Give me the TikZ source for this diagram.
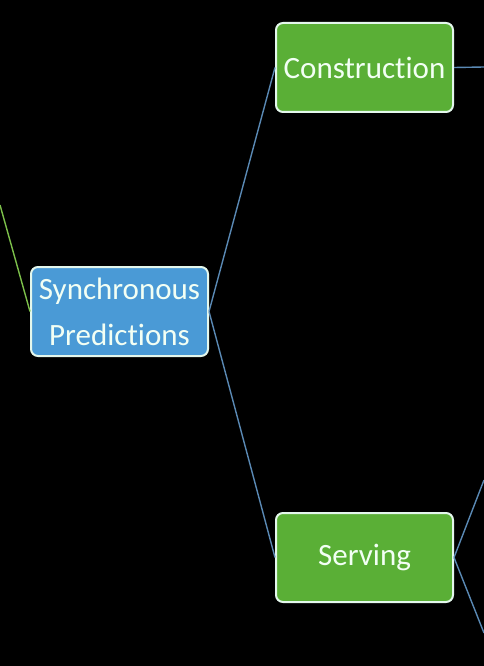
\documentclass[tikz,border=0pt]{standalone}
\usepackage{fontspec}
\setmainfont[Ligatures=NoCommon]{Carlito}
\definecolor{bluefill}{HTML}{4A9AD6}
\definecolor{greenfill}{HTML}{5AAF36}
\definecolor{bordercol}{HTML}{E4F7EC}
\definecolor{linkblue}{HTML}{5A89B4}
\definecolor{linkgreen}{HTML}{7CBF4A}
\definecolor{textcol}{HTML}{F2FFF4}
\tikzset{
  box/.style={draw=bordercol, line width=2pt, rounded corners=7pt,
    minimum width=177pt, minimum height=89pt, inner sep=0pt,
    text=textcol, font=\fontsize{31}{46}\selectfont, align=center},
  bluebox/.style={box, fill=bluefill},
  greenbox/.style={box, fill=greenfill},
  link/.style={draw=linkblue, line width=1.4pt},
  glink/.style={draw=linkgreen, line width=1.4pt}
}
\begin{document}
\begin{tikzpicture}[x=1pt,y=-1pt]
\fill[black] (0,0) rectangle (484,666);
\useasboundingbox (0,0) rectangle (484,666);
\coordinate (inL) at (0,205);
\coordinate (outC) at (484,67);
\coordinate (outS1) at (484,480);
\coordinate (outS2) at (484,633);
\node[bluebox] (sync) at (119.5,311.5) {Synchronous\\Predictions};
\node[greenbox] (cons) at (364.5,67.5) {Construction};
\node[greenbox] (serv) at (364.5,557.5) {Serving};
\draw[glink] (inL) -- (sync.west);
\draw[link] (sync.east) -- (cons.west);
\draw[link] (sync.east) -- (serv.west);
\draw[link] (cons.east) -- (outC);
\draw[link] (serv.east) -- (outS1);
\draw[link] (serv.east) -- (outS2);
\end{tikzpicture}
\end{document}
